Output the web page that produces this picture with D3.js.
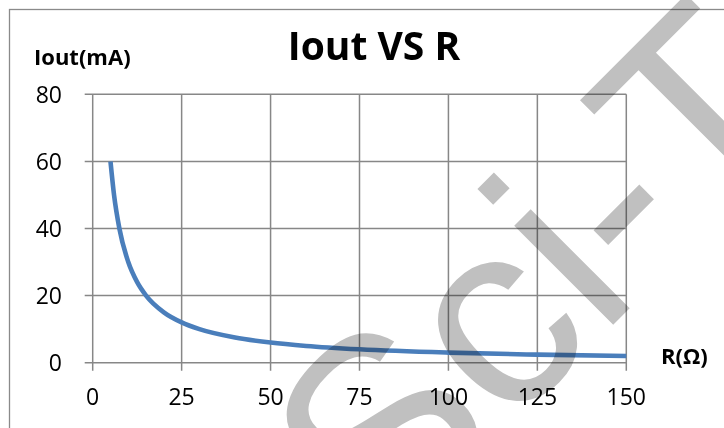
<!DOCTYPE html>
<html>
<head>
<meta charset="utf-8">
<script src="https://cdn.jsdelivr.net/npm/d3@7"></script>
<style>
body { margin: 0; background: #fff; }
text { font-family: "Open Sans", Lato, sans-serif; fill: #000; }
text.wm { mix-blend-mode: multiply; fill: #c0c0c0; font-family: "Liberation Sans", Arial, sans-serif; }
</style>
</head>
<body>
<div class="chart"></div>
<script>

// values
var rValues = [5, 6, 7.5, 10, 12.5, 15, 20, 25, 30, 40, 50, 60, 75, 100, 125, 150];
var ioutValues = [60, 50, 40, 30, 24, 20, 15, 12, 10, 7.5, 6, 5, 4, 3, 2.4, 2];
var xTicks = [0, 25, 50, 75, 100, 125, 150];
var yTicks = [0, 20, 40, 60, 80];

var width = 724,
    height = 428;

var svg = d3.select(".chart")
	.append("svg")
	.attr("width", width)
	.attr("height", height);

var x = d3.scaleLinear()
	.domain([0, 150])
	.range([92.7, 626.3]);

var y = d3.scaleLinear()
	.domain([0, 80])
	.range([362.7, 94.3]);

var gridColor = "#878787";

// outer chart border
svg.append("rect")
	.attr("x", 9.5)
	.attr("y", 9.5)
	.attr("width", 800)
	.attr("height", 500)
	.attr("fill", "none")
	.attr("stroke", "#8a8a8a")
	.attr("stroke-width", 1.3);

// grid
svg.selectAll(".vgrid")
	.data(xTicks)
	.enter().append("line")
	.attr("class", "vgrid")
	.attr("x1", function(d) { return x(d); })
	.attr("x2", function(d) { return x(d); })
	.attr("y1", y(80))
	.attr("y2", y(0) + 8)
	.attr("stroke", gridColor)
	.attr("stroke-width", 1.5);

svg.selectAll(".hgrid")
	.data(yTicks)
	.enter().append("line")
	.attr("class", "hgrid")
	.attr("x1", x(0) - 8)
	.attr("x2", x(150))
	.attr("y1", function(d) { return y(d); })
	.attr("y2", function(d) { return y(d); })
	.attr("stroke", gridColor)
	.attr("stroke-width", 1.5);

// tick labels
svg.selectAll(".xlab")
	.data(xTicks)
	.enter().append("text")
	.attr("class", "xlab")
	.attr("x", function(d) { return x(d); })
	.attr("y", 405)
	.attr("text-anchor", "middle")
	.attr("font-size", 23)
	.text(function(d) { return d; });

svg.selectAll(".ylab")
	.data(yTicks)
	.enter().append("text")
	.attr("class", "ylab")
	.attr("x", 62)
	.attr("y", function(d) { return y(d) + 8.2; })
	.attr("text-anchor", "end")
	.attr("font-size", 23)
	.text(function(d) { return d; });

// the curve
var points = rValues.map(function(r, i) { return [r, ioutValues[i]]; });

var line = d3.line()
	.x(function(d) { return x(d[0]); })
	.y(function(d) { return y(d[1]); })
	.curve(d3.curveMonotoneX);

svg.append("path")
	.datum(points)
	.attr("d", line)
	.attr("fill", "none")
	.attr("stroke", "#4a7ebb")
	.attr("stroke-width", 4.6);

// titles
svg.append("text")
	.attr("x", 374)
	.attr("y", 59.5)
	.attr("text-anchor", "middle")
	.attr("font-size", 39)
	.attr("font-weight", "bold")
	.text("Iout VS R");

svg.append("text")
	.attr("x", 34)
	.attr("y", 65)
	.attr("font-size", 22)
	.attr("font-weight", "bold")
	.text("Iout(mA)");

svg.append("text")
	.attr("x", 661)
	.attr("y", 364)
	.attr("font-size", 22)
	.attr("font-weight", "bold")
	.text("R(Ω)");

// watermark over the figure
svg.append("text")
	.attr("class", "wm")
	.attr("transform", "translate(382,556) rotate(-45)")
	.attr("font-size", 265)
	.text("Sci-T");

</script>
</body>
</html>
